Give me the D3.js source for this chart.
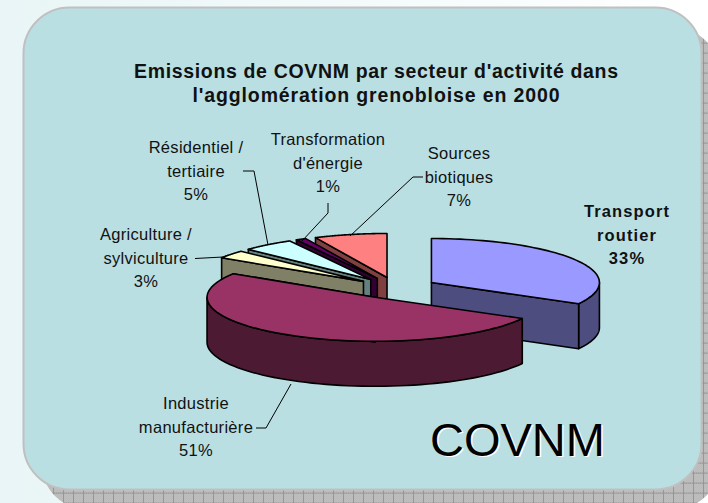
<!DOCTYPE html>
<html>
<head>
<meta charset="utf-8">
<script src="https://cdn.jsdelivr.net/npm/d3@7"></script>
<style>
  html, body { margin: 0; padding: 0; background: #fff; }
  text { font-family: "Liberation Sans", Arial, sans-serif; fill: #111; }
</style>
</head>
<body>
<div id="chart"></div>
<script>
const title = ["Emissions de COVNM par secteur d'activité dans", "l'agglomération grenobloise en 2000"];
const sectors = ["Transport routier", "Industrie manufacturière", "Agriculture / sylviculture", "Résidentiel / tertiaire", "Transformation d'énergie", "Sources biotiques"];
const shares = [33, 51, 3, 5, 1, 7];
const topColors = ["#9999FF", "#993366", "#FFFFCC", "#CCFFFF", "#660066", "#FF8080"];
const sideColors = ["#4D4D80", "#4D1A33", "#808066", "#668080", "#330033", "#804040"];
const labelLines = [
  ["Transport", "routier", "33%"],
  ["Industrie", "manufacturière", "51%"],
  ["Agriculture /", "sylviculture", "3%"],
  ["Résidentiel /", "tertiaire", "5%"],
  ["Transformation", "d'énergie", "1%"],
  ["Sources", "biotiques", "7%"]
];
const labelX = [627, 196, 146, 196, 328, 459];
const labelY = [217, 409, 240, 153, 145, 159];
const leaders = [
  [],
  [[256, 428], [266, 428], [291, 384]],
  [[195, 258.5], [223, 257], [228, 255]],
  [[243, 171], [254, 171], [268, 245]],
  [[328, 203], [328, 213], [302, 241]],
  [[423, 177], [413, 177], [350, 236]]
];

const width = 708, height = 503;
const cx = 396, cy = 288, rx = 168, ry = 44, depth = 45, explode = 0.245;

const svg = d3.select("#chart").append("svg").attr("width", width).attr("height", height).style("display", "block");
const defs = svg.append("defs");

const bg = defs.append("linearGradient").attr("id", "bg").attr("x1", 0).attr("x2", 1).attr("y1", 0.5).attr("y2", 0.5);
bg.append("stop").attr("offset", 0).attr("stop-color", "#E9F5F6");
bg.append("stop").attr("offset", 1).attr("stop-color", "#FFFFFF");

// the hatched drop shadow of the slide panel
const hatch = defs.append("pattern").attr("id", "hatch").attr("patternUnits", "userSpaceOnUse")
  .attr("width", 10).attr("height", 10).attr("x", 3).attr("y", 2.6);
hatch.append("rect").attr("width", 10).attr("height", 10).attr("fill", "#C4C4C4");
d3.range(0, 10, 2).forEach(a => d3.range(0, 10, 2).forEach(b => {
  hatch.append("rect").attr("x", a).attr("y", b).attr("width", 1).attr("height", 1).attr("fill", "#B4B4B4");
  hatch.append("rect").attr("x", a + 1).attr("y", b + 1).attr("width", 1).attr("height", 1).attr("fill", "#B4B4B4");
}));
hatch.append("path").attr("d", "M0 .5H10M.5 0V10").attr("stroke", "#969696").attr("stroke-width", 1);

svg.append("rect").attr("width", width).attr("height", height).attr("fill", "url(#bg)");
svg.append("rect").attr("x", 41.5).attr("y", 27.5).attr("width", 678).attr("height", 482).attr("rx", 46)
  .attr("fill", "url(#hatch)");
svg.append("rect").attr("x", 23.5).attr("y", 7.5).attr("width", 678).attr("height", 482).attr("rx", 46)
  .attr("fill", "#B9DFE3").attr("stroke", "#C0C0C0").attr("stroke-width", 2);

svg.append("g").selectAll("text").data(title).enter().append("text")
  .attr("x", 376).attr("y", (d, i) => 78 + i * 24)
  .attr("text-anchor", "middle").attr("font-size", 19.5).attr("font-weight", "bold")
  .attr("textLength", (d, i) => i === 0 ? 484 : 367).attr("lengthAdjust", "spacing")
  .text(d => d);

// angle 0 is twelve o'clock, clockwise
const slices = d3.pie().sort(null).value(d => d)(shares).map((s, i) => {
  const mid = (s.startAngle + s.endAngle) / 2;
  return {
    i, a0: s.startAngle, a1: s.endAngle,
    ox: cx + explode * rx * Math.sin(mid),
    oy: cy - explode * ry * Math.cos(mid)
  };
});

const sx = a => rx * Math.sin(a);
const sy = a => -ry * Math.cos(a);
const line = d3.line();
const arcPts = (s, from, to, dy) => d3.range(0, 61).map(k => {
  const a = from + (to - from) * k / 60;
  return [s.ox + sx(a), s.oy + sy(a) + dy];
});
const HALF = Math.PI / 2, THREEHALF = 3 * Math.PI / 2;

// back to front
const order = [5, 4, 3, 2, 0, 1];
const pie = svg.append("g").attr("stroke", "#000").attr("stroke-width", 1.6).attr("stroke-linejoin", "round");
order.forEach(idx => {
  const s = slices[idx];
  const g = pie.append("g");
  const side = sideColors[idx];

  // outer rim, only the part that faces the viewer
  const rimFrom = Math.max(s.a0, HALF), rimTo = Math.min(s.a1, THREEHALF);
  if (rimTo > rimFrom) {
    const rim = arcPts(s, rimFrom, rimTo, 0).concat(arcPts(s, rimTo, rimFrom, depth));
    g.append("path").attr("d", line(rim) + "Z").attr("fill", side);
  }

  // cut face that looks to the front
  const cutAngle = s.a0 >= Math.PI ? s.a0 : s.a1;
  const ex = s.ox + sx(cutAngle), ey = s.oy + sy(cutAngle);
  const face = [[s.ox, s.oy], [ex, ey], [ex, ey + depth], [s.ox, s.oy + depth]];
  g.append("path").attr("d", line(face) + "Z").attr("fill", side);

  const top = [[s.ox, s.oy]].concat(arcPts(s, s.a0, s.a1, 0));
  g.append("path").attr("d", line(top) + "Z").attr("fill", topColors[idx]);
});

svg.append("g").attr("fill", "none").attr("stroke", "#000").attr("stroke-width", 1)
  .selectAll("path").data(leaders.filter(d => d.length)).enter().append("path")
  .attr("d", d => line(d));

labelLines.forEach((lines, i) => {
  svg.append("g").selectAll("text").data(lines).enter().append("text")
    .attr("x", labelX[i]).attr("y", (d, k) => labelY[i] + k * 23.6)
    .attr("text-anchor", "middle").attr("font-size", 16.5)
    .attr("letter-spacing", i === 0 ? 1.1 : 0.3)
    .attr("font-weight", i === 0 ? "bold" : "normal")
    .text(d => d);
});

svg.append("text").attr("x", 519).attr("y", 457).attr("text-anchor", "middle")
  .attr("font-size", 47).style("fill", "#fff").text("COVNM");
svg.append("text").attr("x", 517.5).attr("y", 455.5).attr("text-anchor", "middle")
  .attr("font-size", 47).style("fill", "#000").text("COVNM");
</script>
</body>
</html>
